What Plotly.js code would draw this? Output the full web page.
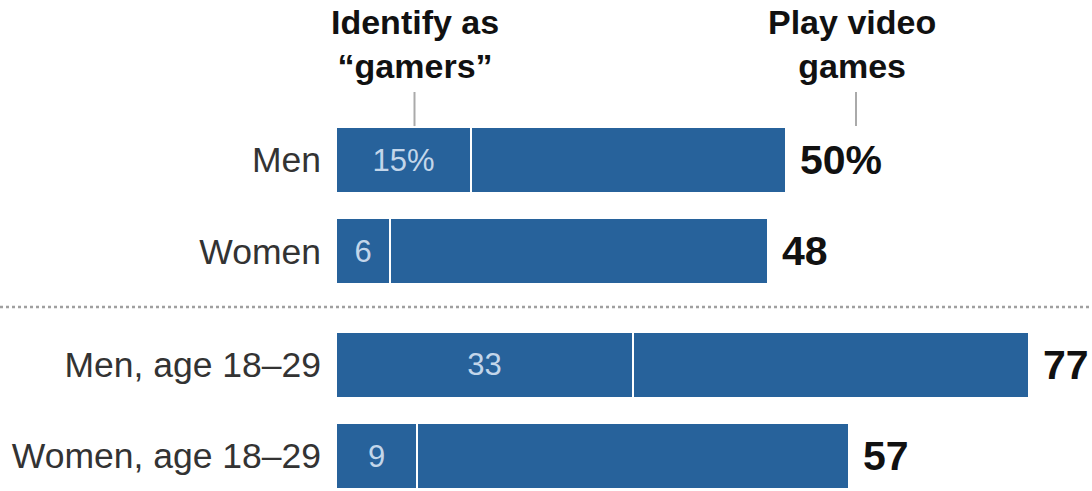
<!DOCTYPE html>
<html>
<head>
<meta charset="utf-8">
<script src="https://cdn.plot.ly/plotly-3.0.1.min.js"></script>
<style>html,body{margin:0;padding:0;background:#fff;}#chart{width:1092px;height:491px;}</style>
</head>
<body>
<div id="chart"></div>
<script>
const categories = ["Men", "Women", "Men, age 18\u201329", "Women, age 18\u201329"];
const gamers = [15, 6, 33, 9];
const playGames = [50, 48, 77, 57];
const gamerLabels = ["15%", "6", "33", "9"];
const playLabels = ["50%", "48", "77", "57"];
const headerGamers = "Identify as<br>\u201cgamers\u201d";
const headerPlay = "Play video<br>games";

const BLUE = "#27629b";
const pos = categories.map((c, i) => i + (i >= 2 ? 0.25 : 0));
const rest = playGames.map((v, i) => v - gamers[i]);
const FONT = "Liberation Sans, Arial, sans-serif";

const traces = [
  {
    type: "bar", orientation: "h", y: pos, x: gamers, width: 0.725,
    marker: {color: BLUE, line: {color: "#ffffff", width: 1.5}},
    text: gamerLabels, textposition: "inside", insidetextanchor: "middle",
    textfont: {family: FONT, size: 31, color: "#c3d6ea"},
    hoverinfo: "skip", constraintext: "none"
  },
  {
    type: "bar", orientation: "h", y: pos, x: rest, base: gamers, width: 0.725,
    marker: {color: BLUE, line: {color: "#ffffff", width: 1.5}},
    hoverinfo: "skip"
  }
];

const annotations = playGames.map((v, i) => ({
  x: v, y: pos[i], xref: "x", yref: "y", text: "<b>" + playLabels[i] + "</b>",
  showarrow: false, xanchor: "left", yanchor: "middle", xshift: 12,
  font: {family: FONT, size: 41, color: "#111"}
}));
annotations.push({
  x: gamers[0] / 2, xshift: 11, y: -0.80, xref: "x", yref: "y", text: "<b>" + headerGamers + "</b>",
  showarrow: false, xanchor: "center", yanchor: "bottom",
  font: {family: FONT, size: 34, color: "#111"}
});
annotations.push({
  x: playGames[0], xshift: 66, y: -0.80, xref: "x", yref: "y", text: "<b>" + headerPlay + "</b>",
  showarrow: false, xanchor: "center", yanchor: "bottom",
  font: {family: FONT, size: 34, color: "#111"}
});

const shapes = [
  {type: "line", xref: "x", yref: "y", xsizemode: "pixel", xanchor: gamers[0] / 2, x0: 11, x1: 11,
   y0: -0.747, y1: -0.373, line: {color: "#aaaaaa", width: 2}},
  {type: "line", xref: "x", yref: "y", xsizemode: "pixel", xanchor: playGames[0], x0: 70, x1: 70,
   y0: -0.747, y1: -0.373, line: {color: "#aaaaaa", width: 2}},
  {type: "line", xref: "paper", yref: "y", x0: -336 / 756, x1: 1, y0: (pos[1] + pos[2]) / 2 - 0.01, y1: (pos[1] + pos[2]) / 2 - 0.01,
   line: {color: "#a0a0a0", width: 2.5, dash: "dot"}}
];

const layout = {
  width: 1092, height: 491,
  margin: {l: 336, r: 0, t: 0, b: 0},
  paper_bgcolor: "#fff", plot_bgcolor: "#fff",
  barmode: "stack", showlegend: false,
  xaxis: {range: [0, 84], visible: false, fixedrange: true},
  yaxis: {range: [3.634, -1.757], tickvals: pos, ticktext: categories, showgrid: false, zeroline: false,
          showline: false, ticks: "", ticklabelstandoff: 14,
          tickfont: {family: FONT, size: 35.5, color: "#333"}, fixedrange: true},
  annotations: annotations,
  shapes: shapes,
  font: {family: FONT}
};

Plotly.newPlot("chart", traces, layout, {displayModeBar: false, staticPlot: true});
</script>
</body>
</html>
